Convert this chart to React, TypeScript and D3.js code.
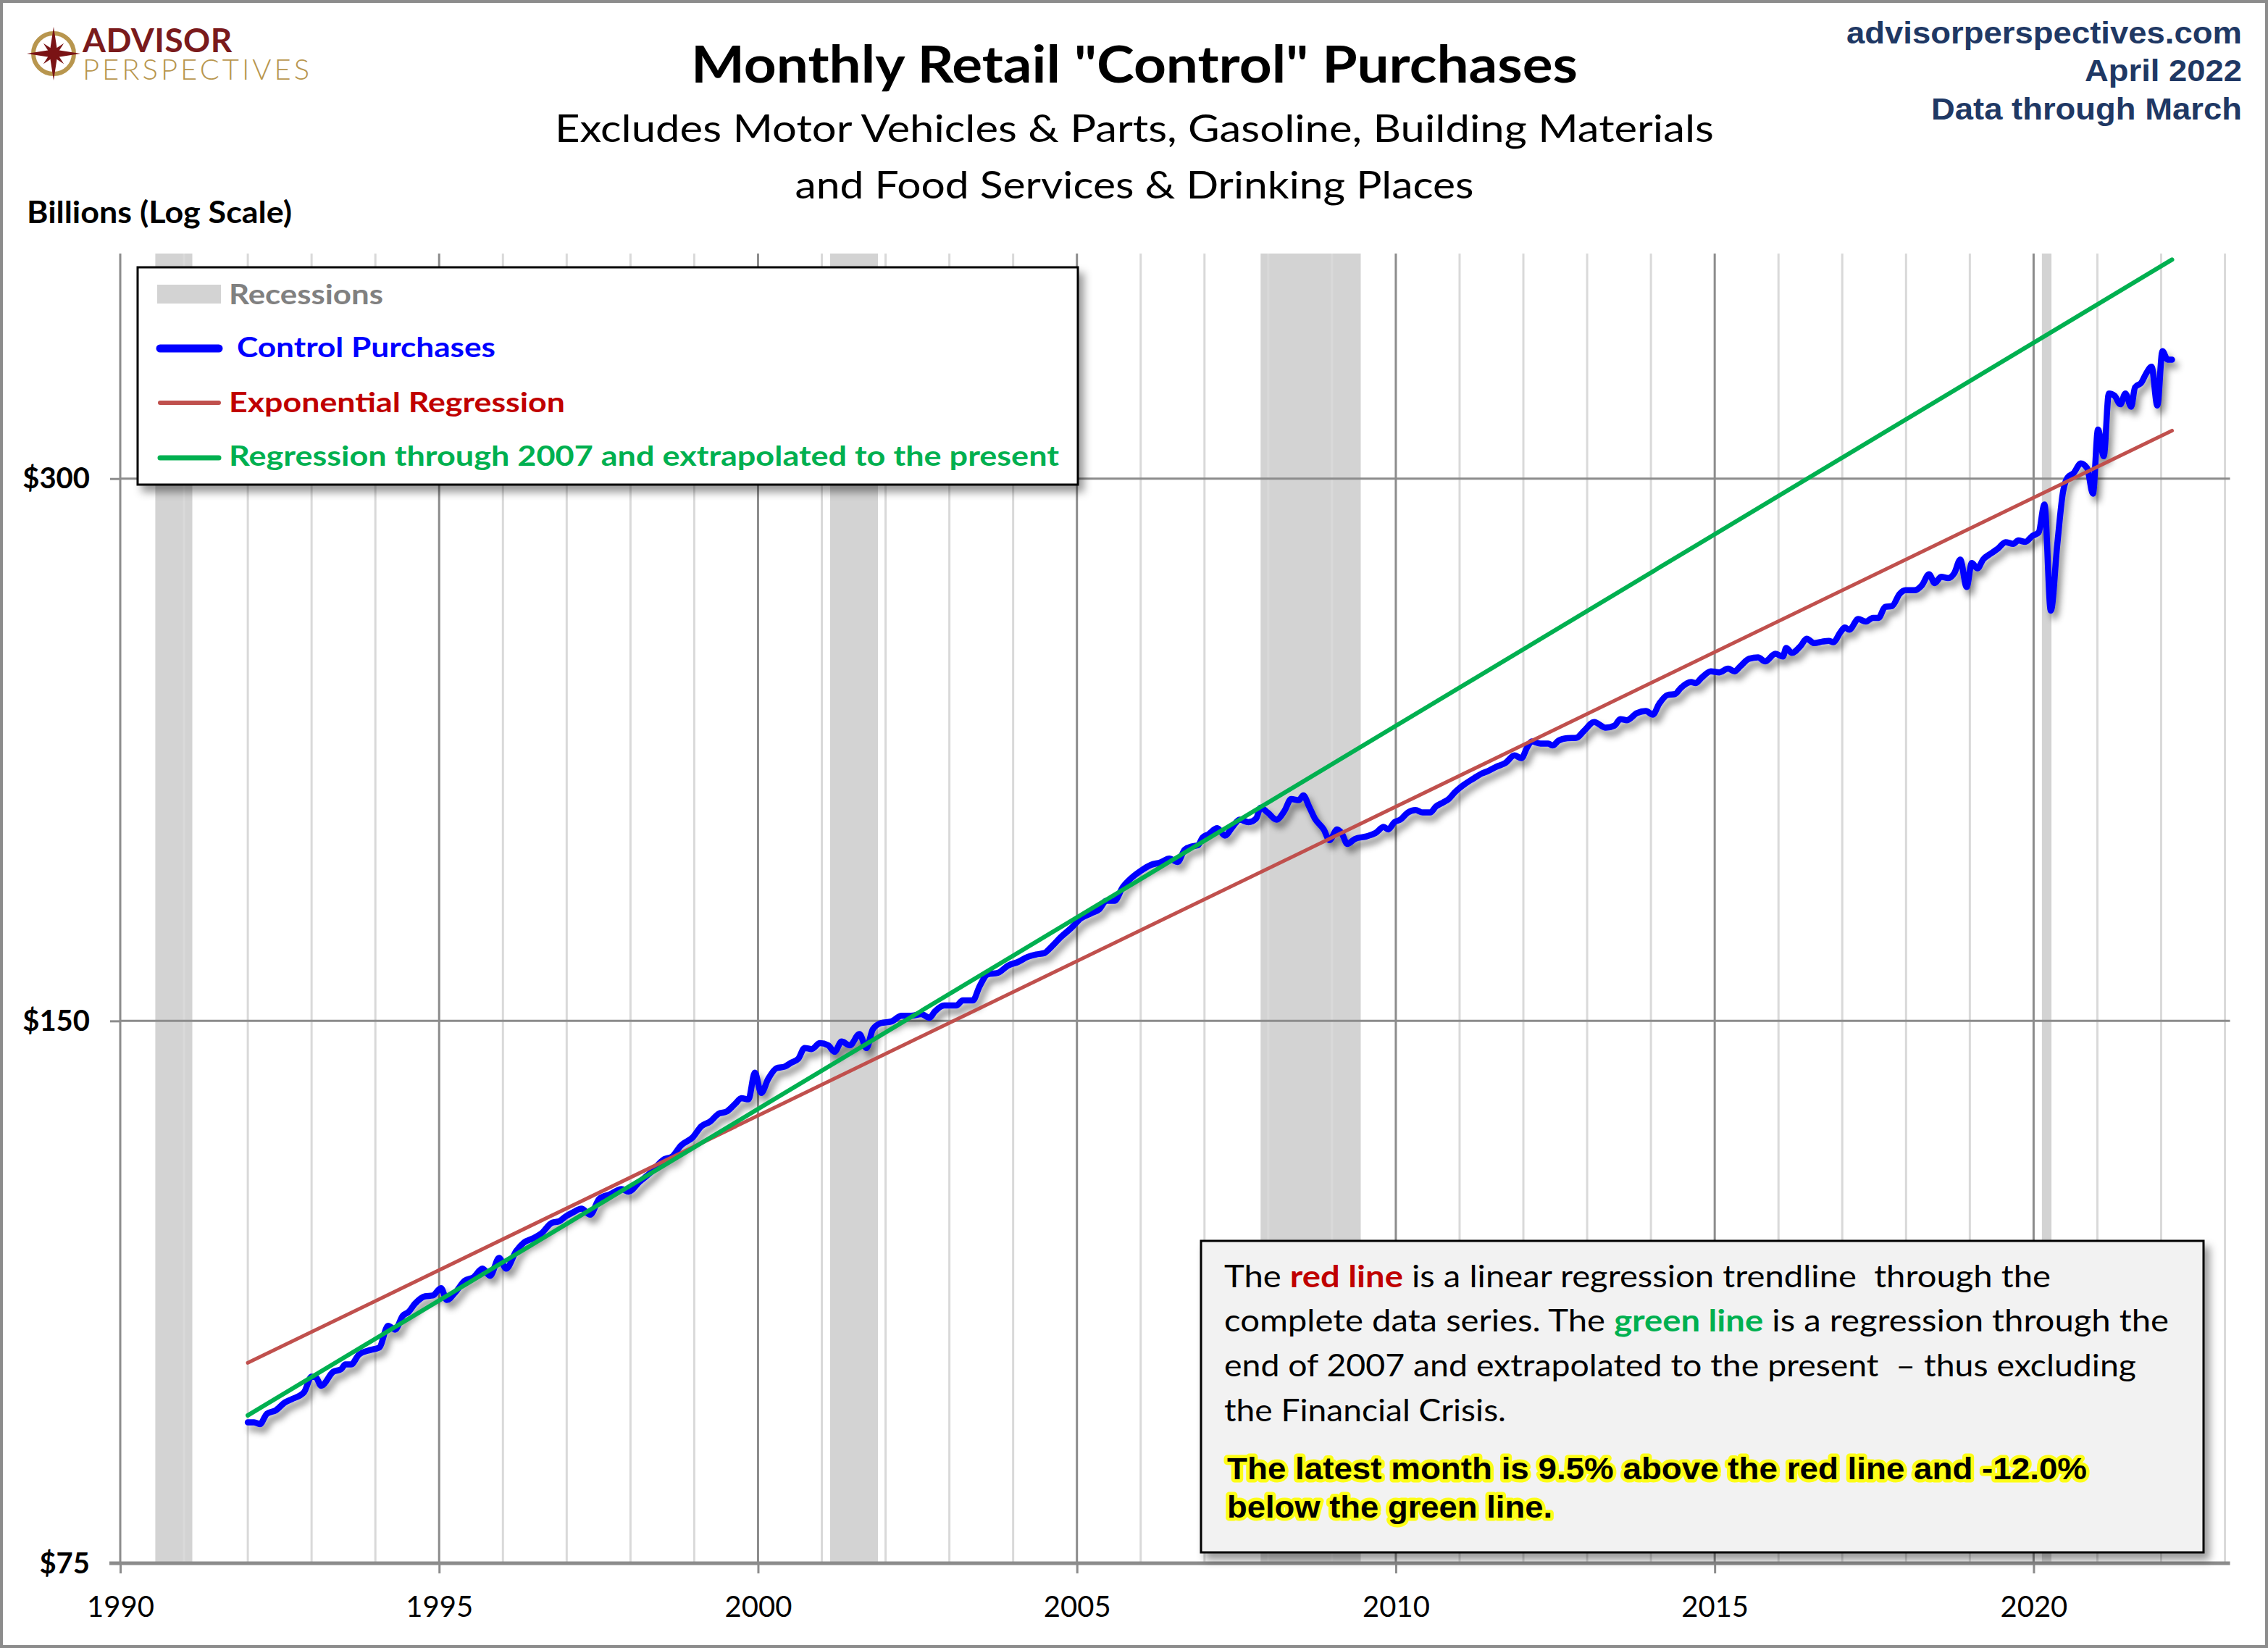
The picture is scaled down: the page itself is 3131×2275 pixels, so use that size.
import { useEffect, useRef } from "react";
import * as d3 from "d3";

type Pt = [number, number];

const recessions: Pt[] = [
  [1990.55, 1991.13],
  [2001.13, 2001.88],
  [2007.88, 2009.45],
  [2020.13, 2020.28],
];

// year, billions of dollars
const controlPurchases: Pt[] = [
  [1992.0, 89.8], [1992.1, 89.8], [1992.19, 89.6], [1992.3, 90.8], [1992.44, 91.2], [1992.58, 92.1],
  [1992.69, 92.5], [1992.88, 93.3], [1993.0, 95.2], [1993.07, 95.1], [1993.15, 94.1], [1993.34, 95.8],
  [1993.46, 96.1], [1993.53, 96.7], [1993.62, 96.7], [1993.74, 97.9], [1993.92, 98.5], [1994.06, 98.8],
  [1994.2, 101.6], [1994.31, 101.1], [1994.43, 102.9], [1994.52, 103.4], [1994.62, 104.5], [1994.78, 105.5],
  [1994.9, 105.6], [1995.03, 106.6], [1995.12, 105.0], [1995.26, 106.1], [1995.4, 107.6], [1995.54, 108.1],
  [1995.68, 109.3], [1995.8, 108.3], [1995.94, 110.8], [1996.05, 109.3], [1996.21, 111.8], [1996.33, 113.0],
  [1996.47, 113.6], [1996.6, 114.3], [1996.77, 115.9], [1996.88, 116.1], [1996.98, 116.8], [1997.11, 117.5],
  [1997.23, 118.0], [1997.37, 117.1], [1997.51, 119.5], [1997.68, 120.2], [1997.86, 121.0], [1997.97, 120.6],
  [1998.14, 122.1], [1998.32, 123.6], [1998.53, 125.7], [1998.65, 126.1], [1998.79, 127.9], [1998.98, 129.3],
  [1999.11, 131.1], [1999.25, 131.9], [1999.38, 133.2], [1999.51, 133.6], [1999.64, 134.9], [1999.74, 135.9],
  [1999.85, 135.7], [1999.95, 140.4], [2000.05, 136.8], [2000.16, 139.3], [2000.29, 141.2], [2000.42, 141.5],
  [2000.52, 142.2], [2000.63, 142.9], [2000.73, 144.9], [2000.84, 144.7], [2000.97, 145.8], [2001.1, 145.4],
  [2001.2, 144.2], [2001.31, 146.1], [2001.44, 145.4], [2001.59, 147.5], [2001.7, 144.9], [2001.8, 148.4],
  [2001.93, 149.6], [2002.09, 149.9], [2002.25, 151.0], [2002.4, 151.0], [2002.56, 151.3], [2002.69, 150.6],
  [2002.77, 151.8], [2002.92, 153.0], [2003.11, 153.0], [2003.21, 154.0], [2003.37, 154.0], [2003.47, 156.7],
  [2003.6, 159.2], [2003.76, 159.5], [2003.92, 161.0], [2004.07, 161.7], [2004.23, 162.8], [2004.36, 163.3],
  [2004.49, 163.6], [2004.6, 164.9], [2004.75, 167.0], [2004.91, 168.9], [2005.06, 171.0], [2005.22, 172.1],
  [2005.35, 173.0], [2005.46, 174.9], [2005.59, 174.9], [2005.72, 178.0], [2005.85, 180.0], [2006.0, 181.7],
  [2006.16, 183.1], [2006.31, 183.7], [2006.45, 184.6], [2006.58, 183.8], [2006.69, 186.7], [2006.81, 187.5],
  [2006.9, 187.8], [2006.97, 189.6], [2007.06, 190.4], [2007.2, 191.9], [2007.32, 190.1], [2007.44, 192.2],
  [2007.55, 194.0], [2007.69, 193.4], [2007.81, 194.3], [2007.88, 197.0], [2007.99, 195.8], [2008.13, 194.0],
  [2008.25, 196.1], [2008.36, 199.2], [2008.48, 198.9], [2008.55, 200.1], [2008.64, 197.3], [2008.73, 194.3],
  [2008.87, 191.6], [2008.96, 189.0], [2009.08, 191.6], [2009.15, 190.7], [2009.24, 188.1], [2009.36, 189.3],
  [2009.54, 189.9], [2009.68, 190.7], [2009.81, 192.2], [2009.88, 191.6], [2009.98, 193.4], [2010.07, 194.0],
  [2010.19, 195.8], [2010.31, 196.4], [2010.42, 195.8], [2010.54, 195.8], [2010.63, 197.3], [2010.74, 198.3],
  [2010.83, 199.2], [2010.93, 201.0], [2011.07, 202.9], [2011.21, 204.4], [2011.35, 205.8], [2011.44, 206.4],
  [2011.58, 207.6], [2011.72, 208.6], [2011.86, 210.6], [2011.97, 209.9], [2012.06, 212.8], [2012.13, 214.4],
  [2012.27, 213.8], [2012.39, 213.8], [2012.46, 213.3], [2012.55, 214.6], [2012.69, 215.3], [2012.83, 215.4],
  [2012.95, 217.3], [2013.11, 219.8], [2013.29, 218.2], [2013.43, 218.8], [2013.52, 220.6], [2013.62, 220.3],
  [2013.78, 222.3], [2013.92, 222.9], [2014.03, 221.9], [2014.13, 225.0], [2014.26, 227.5], [2014.38, 227.8],
  [2014.47, 229.6], [2014.63, 231.3], [2014.7, 231.0], [2014.8, 232.7], [2014.94, 234.5], [2015.07, 234.2],
  [2015.21, 235.3], [2015.31, 234.5], [2015.4, 236.0], [2015.54, 238.3], [2015.68, 238.7], [2015.79, 237.5],
  [2015.95, 239.8], [2016.07, 239.0], [2016.12, 241.6], [2016.21, 240.1], [2016.35, 242.3], [2016.44, 244.5],
  [2016.56, 243.1], [2016.69, 243.6], [2016.79, 243.8], [2016.86, 243.4], [2016.97, 246.5], [2017.04, 248.0],
  [2017.11, 247.3], [2017.25, 250.7], [2017.37, 249.9], [2017.48, 251.1], [2017.57, 251.1], [2017.67, 254.6],
  [2017.78, 254.9], [2017.9, 258.9], [2017.99, 260.1], [2018.13, 260.1], [2018.25, 261.8], [2018.36, 265.5],
  [2018.45, 262.5], [2018.55, 264.6], [2018.66, 264.2], [2018.76, 266.0], [2018.85, 270.5], [2018.95, 261.2],
  [2019.03, 269.3], [2019.12, 267.5], [2019.21, 270.6], [2019.33, 272.6], [2019.44, 274.3], [2019.56, 276.6],
  [2019.68, 276.0], [2019.76, 277.2], [2019.87, 276.7], [2019.98, 278.8], [2020.08, 280.1], [2020.17, 290.2],
  [2020.27, 253.4], [2020.37, 275.5], [2020.46, 294.8], [2020.53, 300.3], [2020.63, 302.2], [2020.74, 305.9],
  [2020.84, 304.0], [2020.93, 294.3], [2021.01, 319.4], [2021.1, 308.7], [2021.18, 334.5], [2021.27, 333.5],
  [2021.36, 329.9], [2021.44, 334.5], [2021.53, 328.9], [2021.59, 337.1], [2021.69, 339.2], [2021.76, 342.9],
  [2021.85, 346.1], [2021.94, 329.4], [2022.02, 353.1], [2022.1, 349.3], [2022.17, 349.3],
];

const exponentialRegression: Pt[] = [[1992.0, 96.9], [2022.17, 319.0]];
const regressionThrough2007: Pt[] = [[1992.0, 90.6], [2022.17, 396.9]];

const yTicks = [75, 150, 300];
const xLabelYears = [1990, 1995, 2000, 2005, 2010, 2015, 2020];
const gridYears = [
  1991, 1992, 1993, 1994, 1996, 1997, 1998, 1999, 2001, 2002, 2003, 2004, 2006, 2007, 2008, 2009,
  2011, 2012, 2013, 2014, 2016, 2017, 2018, 2019, 2021, 2022, 2023,
];

const WIDTH = 3131;
const HEIGHT = 2275;
const LATO = "Lato, 'Open Sans', 'Noto Sans', sans-serif";
const ARIAL = "'Liberation Sans', Arial, sans-serif";
const NARROW = "'Liberation Sans Narrow', 'Liberation Sans', Arial, sans-serif";

const BLUE = "#0000FF";
const RED_LINE = "#C0504D";
const RED_TEXT = "#C00000";
const GREEN = "#00B050";
const GRID_MAJOR = "#8C8C8C";
const GRID_MINOR = "#D9D9D9";
const NAVY = "#1F3864";

export default function App() {
  const ref = useRef<SVGSVGElement>(null);

  useEffect(() => {
    if (!ref.current) return;
    const svg = d3.select(ref.current);
    svg.selectAll("*").remove();
    svg.attr("width", WIDTH).attr("height", HEIGHT);

    const defs = svg.append("defs");
    const lineShadow = defs
      .append("filter")
      .attr("id", "lineShadow")
      .attr("x", "-5%")
      .attr("y", "-5%")
      .attr("width", "110%")
      .attr("height", "110%");
    lineShadow
      .append("feDropShadow")
      .attr("dx", 5)
      .attr("dy", 8)
      .attr("stdDeviation", 5)
      .attr("flood-color", "#000")
      .attr("flood-opacity", 0.45);
    const boxShadow = defs
      .append("filter")
      .attr("id", "boxShadow")
      .attr("x", "-5%")
      .attr("y", "-10%")
      .attr("width", "115%")
      .attr("height", "130%");
    boxShadow
      .append("feDropShadow")
      .attr("dx", 7)
      .attr("dy", 9)
      .attr("stdDeviation", 6)
      .attr("flood-color", "#000")
      .attr("flood-opacity", 0.4);

    // background + frame
    svg.append("rect").attr("width", WIDTH).attr("height", HEIGHT).attr("fill", "#fff");
    svg
      .append("rect")
      .attr("x", 2)
      .attr("y", 2)
      .attr("width", WIDTH - 4)
      .attr("height", HEIGHT - 4)
      .attr("fill", "none")
      .attr("stroke", "#8C8C8C")
      .attr("stroke-width", 4);

    const x = d3.scaleLinear().domain([1990, 2023.08]).range([166, 3078.6]);
    const y = d3.scaleLog().domain([75, 400]).range([2158, 350]);
    const [plotBottom, plotTop] = y.range();
    const plotRight = x.range()[1];

    // recession bands
    svg
      .append("g")
      .selectAll("rect")
      .data(recessions)
      .join("rect")
      .attr("x", (d) => x(d[0]))
      .attr("width", (d) => x(d[1]) - x(d[0]))
      .attr("y", plotTop)
      .attr("height", plotBottom - plotTop)
      .attr("fill", "#D3D3D3");

    // vertical gridlines
    const grid = svg.append("g");
    grid
      .selectAll("line.minor")
      .data(gridYears)
      .join("line")
      .attr("class", "minor")
      .attr("x1", (d) => x(d))
      .attr("x2", (d) => x(d))
      .attr("y1", plotTop)
      .attr("y2", plotBottom)
      .attr("stroke", GRID_MINOR)
      .attr("stroke-width", 3);
    grid
      .selectAll("line.major")
      .data(xLabelYears)
      .join("line")
      .attr("class", "major")
      .attr("x1", (d) => x(d))
      .attr("x2", (d) => x(d))
      .attr("y1", plotTop)
      .attr("y2", plotBottom)
      .attr("stroke", GRID_MAJOR)
      .attr("stroke-width", 3);
    grid
      .selectAll("line.h")
      .data(yTicks.slice(1))
      .join("line")
      .attr("class", "h")
      .attr("x1", x(1990))
      .attr("x2", plotRight)
      .attr("y1", (d) => y(d))
      .attr("y2", (d) => y(d))
      .attr("stroke", GRID_MAJOR)
      .attr("stroke-width", 3);

    // x axis
    const xAxis = d3
      .axisBottom(x)
      .tickValues(xLabelYears)
      .tickSize(14)
      .tickSizeOuter(0)
      .tickFormat((d) => String(d));
    const xg = svg.append("g").attr("transform", `translate(0,${plotBottom})`).call(xAxis);
    xg.select(".domain").remove();
    xg.selectAll("line").attr("stroke", GRID_MAJOR).attr("stroke-width", 3);
    xg.selectAll("text")
      .attr("y", 74)
      .attr("dy", 0)
      .attr("fill", "#000")
      .style("font-family", LATO)
      .style("font-size", "40px");
    svg
      .append("line")
      .attr("x1", 151)
      .attr("x2", plotRight)
      .attr("y1", plotBottom)
      .attr("y2", plotBottom)
      .attr("stroke", GRID_MAJOR)
      .attr("stroke-width", 5);

    // y axis
    const yAxis = d3
      .axisLeft(y)
      .tickValues(yTicks)
      .tickSize(14)
      .tickSizeOuter(0)
      .tickFormat((d) => `$${d}`);
    const yg = svg.append("g").attr("transform", `translate(${x(1990)},0)`).call(yAxis);
    yg.select(".domain").remove();
    yg.selectAll("line").attr("stroke", GRID_MAJOR).attr("stroke-width", 3);
    yg.selectAll("text")
      .attr("x", -42)
      .attr("dy", 13)
      .attr("fill", "#000")
      .style("font-family", LATO)
      .style("font-weight", "bold")
      .style("font-size", "40px");

    // series
    const line = d3
      .line<Pt>()
      .x((d) => x(d[0]))
      .y((d) => y(d[1]))
      .curve(d3.curveMonotoneX);

    svg
      .append("path")
      .datum(controlPurchases)
      .attr("d", line)
      .attr("fill", "none")
      .attr("stroke", BLUE)
      .attr("stroke-width", 8.5)
      .attr("stroke-linejoin", "round")
      .attr("stroke-linecap", "round")
      .attr("filter", "url(#lineShadow)");

    svg
      .append("path")
      .datum(exponentialRegression)
      .attr("d", line)
      .attr("fill", "none")
      .attr("stroke", RED_LINE)
      .attr("stroke-width", 5)
      .attr("stroke-linecap", "round");

    svg
      .append("path")
      .datum(regressionThrough2007)
      .attr("d", line)
      .attr("fill", "none")
      .attr("stroke", GREEN)
      .attr("stroke-width", 6)
      .attr("stroke-linecap", "round");

    // legend
    const legend = svg.append("g");
    legend
      .append("rect")
      .attr("x", 190)
      .attr("y", 369)
      .attr("width", 1298)
      .attr("height", 300)
      .attr("fill", "#fff")
      .attr("stroke", "#000")
      .attr("stroke-width", 3)
      .attr("filter", "url(#boxShadow)");
    legend
      .append("rect")
      .attr("x", 217)
      .attr("y", 393)
      .attr("width", 88)
      .attr("height", 26)
      .attr("fill", "#D3D3D3");
    const legendLines = [
      { y: 481, color: BLUE, w: 11 },
      { y: 556, color: RED_LINE, w: 6 },
      { y: 632, color: GREEN, w: 7 },
    ];
    legend
      .selectAll("line")
      .data(legendLines)
      .join("line")
      .attr("x1", 221)
      .attr("x2", 302)
      .attr("y1", (d) => d.y)
      .attr("y2", (d) => d.y)
      .attr("stroke", (d) => d.color)
      .attr("stroke-width", (d) => d.w)
      .attr("stroke-linecap", "round");
    const legendTexts = [
      { text: "Recessions", x: 316, y: 420, len: 213, color: "#808080" },
      { text: "Control Purchases", x: 327, y: 493, len: 357, color: BLUE },
      { text: "Exponential Regression", x: 316, y: 569, len: 464, color: RED_TEXT },
      { text: "Regression through 2007 and extrapolated to the present", x: 316, y: 643, len: 1146, color: GREEN },
    ];
    legend
      .selectAll("text")
      .data(legendTexts)
      .join("text")
      .attr("x", (d) => d.x)
      .attr("y", (d) => d.y)
      .attr("textLength", (d) => d.len)
      .attr("lengthAdjust", "spacingAndGlyphs")
      .attr("fill", (d) => d.color)
      .style("font-family", LATO)
      .style("font-weight", "bold")
      .style("font-size", "38px")
      .text((d) => d.text);

    // annotation box
    const note = svg.append("g");
    note
      .append("rect")
      .attr("x", 1658)
      .attr("y", 1713)
      .attr("width", 1384)
      .attr("height", 430)
      .attr("fill", "#F2F2F2")
      .attr("stroke", "#000")
      .attr("stroke-width", 3)
      .attr("filter", "url(#boxShadow)");

    const noteLines: { y: number; len: number; parts: { t: string; c?: string }[] }[] = [
      {
        y: 1777,
        len: 1141,
        parts: [
          { t: "The " },
          { t: "red line", c: RED_TEXT },
          { t: " is a linear regression trendline\u00a0 through the" },
        ],
      },
      {
        y: 1838,
        len: 1304,
        parts: [
          { t: "complete data series. The " },
          { t: "green line", c: GREEN },
          { t: " is a regression through the" },
        ],
      },
      { y: 1900, len: 1259, parts: [{ t: "end of 2007 and extrapolated to the present\u00a0 \u2013 thus excluding" }] },
      { y: 1962, len: 389, parts: [{ t: "the Financial Crisis." }] },
    ];
    noteLines.forEach((ln) => {
      const t = note
        .append("text")
        .attr("x", 1690)
        .attr("y", ln.y)
        .attr("textLength", ln.len)
        .attr("lengthAdjust", "spacingAndGlyphs")
        .attr("fill", "#000")
        .style("font-family", LATO)
        .style("font-size", "42px");
      ln.parts.forEach((p) => {
        t.append("tspan")
          .attr("fill", p.c ?? "#000")
          .style("font-weight", p.c ? "bold" : "normal")
          .text(p.t);
      });
    });

    const highlight = [
      { text: "The latest month is 9.5% above the red line and -12.0%", y: 2042, len: 1187 },
      { text: "below the green line.", y: 2095, len: 449 },
    ];
    highlight.forEach((h) => {
      note
        .append("text")
        .attr("x", 1694)
        .attr("y", h.y)
        .attr("textLength", h.len)
        .attr("lengthAdjust", "spacingAndGlyphs")
        .attr("fill", "#FFFF00")
        .attr("stroke", "#FFFF00")
        .attr("stroke-width", 9)
        .attr("stroke-linejoin", "round")
        .attr("opacity", 0.9)
        .style("font-family", NARROW)
        .style("font-weight", "bold")
        .style("font-size", "42px")
        .text(h.text);
      note
        .append("text")
        .attr("x", 1694)
        .attr("y", h.y)
        .attr("textLength", h.len)
        .attr("lengthAdjust", "spacingAndGlyphs")
        .attr("fill", "#000")
        .style("font-family", NARROW)
        .style("font-weight", "bold")
        .style("font-size", "42px")
        .text(h.text);
    });

    // titles
    const head = svg.append("g");
    head
      .append("text")
      .attr("x", 1566)
      .attr("y", 114)
      .attr("text-anchor", "middle")
      .attr("textLength", 1224)
      .attr("lengthAdjust", "spacingAndGlyphs")
      .style("font-family", LATO)
      .style("font-weight", "bold")
      .style("font-size", "70px")
      .text('Monthly Retail "Control" Purchases');
    const subs = [
      { text: "Excludes Motor Vehicles & Parts, Gasoline, Building Materials", y: 196, len: 1600 },
      { text: "and Food Services & Drinking Places", y: 274, len: 937 },
    ];
    subs.forEach((s) => {
      head
        .append("text")
        .attr("x", 1566)
        .attr("y", s.y)
        .attr("text-anchor", "middle")
        .attr("textLength", s.len)
        .attr("lengthAdjust", "spacingAndGlyphs")
        .style("font-family", LATO)
        .style("font-size", "52px")
        .text(s.text);
    });

    const right = [
      { text: "advisorperspectives.com", y: 60, len: 546 },
      { text: "April 2022", y: 112, len: 217 },
      { text: "Data through March", y: 165, len: 429 },
    ];
    right.forEach((r) => {
      head
        .append("text")
        .attr("x", 3095)
        .attr("y", r.y)
        .attr("text-anchor", "end")
        .attr("textLength", r.len)
        .attr("lengthAdjust", "spacingAndGlyphs")
        .attr("fill", NAVY)
        .style("font-family", ARIAL)
        .style("font-weight", "bold")
        .style("font-size", "42px")
        .text(r.text);
    });

    head
      .append("text")
      .attr("x", 37)
      .attr("y", 308)
      .attr("textLength", 366)
      .attr("lengthAdjust", "spacingAndGlyphs")
      .style("font-family", LATO)
      .style("font-weight", "bold")
      .style("font-size", "42px")
      .text("Billions (Log Scale)");

    // logo
    const logo = svg.append("g");
    const cx = 74;
    const cy = 74;
    logo
      .append("circle")
      .attr("cx", cx)
      .attr("cy", cy)
      .attr("r", 28)
      .attr("fill", "none")
      .attr("stroke", "#B8964E")
      .attr("stroke-width", 6);
    const star = (long: number, short: number, rot: number) => {
      const pts: [number, number][] = [];
      for (let i = 0; i < 8; i++) {
        const a = rot + (i * Math.PI) / 4;
        const r = i % 2 === 0 ? long : short;
        pts.push([cx + r * Math.sin(a), cy - r * Math.cos(a)]);
      }
      return pts.map((p) => p.join(",")).join(" ");
    };
    logo.append("polygon").attr("points", star(20, 5, Math.PI / 4)).attr("fill", "#7A1315");
    logo.append("polygon").attr("points", star(37, 7, 0)).attr("fill", "#7A1315");
    logo
      .append("text")
      .attr("x", 114)
      .attr("y", 72)
      .attr("fill", "#7A1A1C")
      .style("font-family", LATO)
      .style("font-weight", "bold")
      .style("font-size", "46px")
      .style("letter-spacing", "0.5px")
      .text("ADVISOR");
    logo
      .append("text")
      .attr("x", 114)
      .attr("y", 110)
      .attr("fill", "#B8964E")
      .style("font-family", LATO)
      .style("font-weight", 300)
      .style("font-size", "40px")
      .style("letter-spacing", "4px")
      .text("PERSPECTIVES");
  }, []);

  return (
    <div style={{ position: "absolute", left: 0, top: 0 }}>
      <svg ref={ref} style={{ display: "block" }} />
    </div>
  );
}
